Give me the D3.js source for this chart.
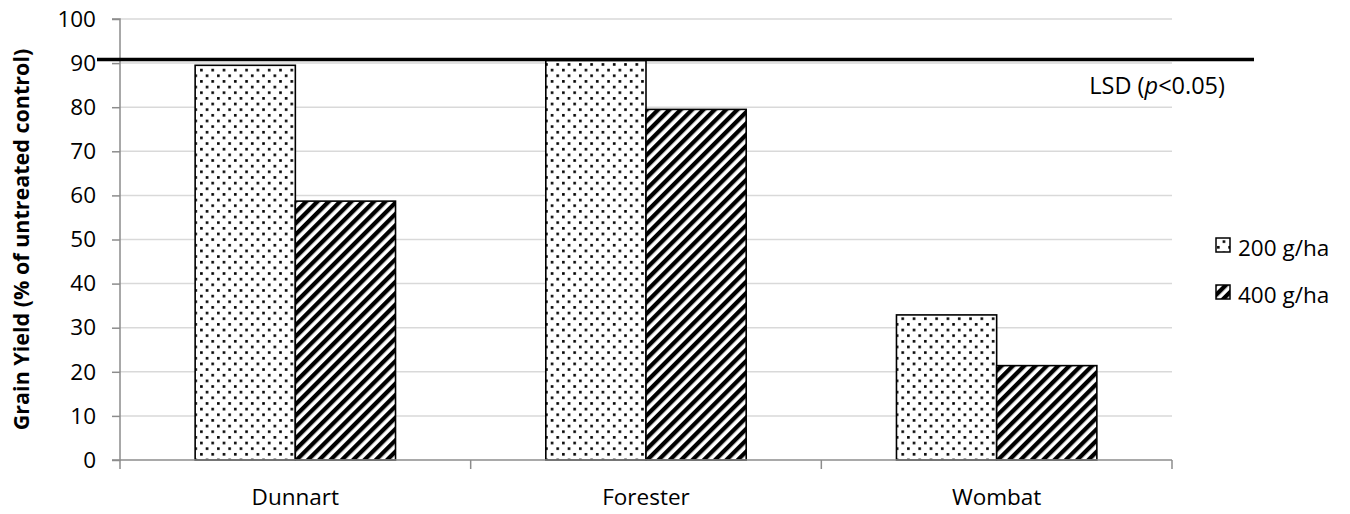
<!DOCTYPE html>
<html><head><meta charset="utf-8">
<script src="https://cdn.jsdelivr.net/npm/d3@7"></script>
<style>body{margin:0;background:#fff;} svg{display:block;font-family:'Open Sans',Lato,sans-serif;}</style>
</head><body><svg id="c" width="1350" height="514"></svg>
<script>
// ---- data ----
const categories = ["Dunnart", "Forester", "Wombat"];
const seriesNames = ["200 g/ha", "400 g/ha"];
const dose200 = [89.5, 90.6, 32.9];
const dose400 = [58.7, 79.5, 21.4];
const yTicks = [0, 10, 20, 30, 40, 50, 60, 70, 80, 90, 100];
const lsdValue = 90.8;
const yTitle = "Grain Yield (% of untreated control)";

// ---- layout ----
const plotL = 120, plotR = 1172, plotT = 19, plotB = 460;
const svg = d3.select("#c");
const defs = svg.append("defs");

// dot pattern (5%)
const pd = defs.append("pattern").attr("id", "dots").attr("patternUnits", "userSpaceOnUse")
  .attr("width", 11.3).attr("height", 11.3);
pd.append("rect").attr("width", 11.3).attr("height", 11.3).attr("fill", "#fff");
pd.append("rect").attr("x", 1).attr("y", 1).attr("width", 2.6).attr("height", 2.6).attr("fill", "#000");
pd.append("rect").attr("x", 6.65).attr("y", 6.65).attr("width", 2.6).attr("height", 2.6).attr("fill", "#000");
// wide upward diagonal
const ph = defs.append("pattern").attr("id", "hatch").attr("patternUnits", "userSpaceOnUse")
  .attr("width", 8).attr("height", 8).attr("patternTransform", "rotate(45)");
ph.append("rect").attr("width", 8).attr("height", 8).attr("fill", "#fff");
ph.append("rect").attr("width", 4.3).attr("height", 8).attr("fill", "#000");
const fills = ["url(#dots)", "url(#hatch)"];

const y = d3.scaleLinear().domain([0, 100]).range([plotB, plotT]);
const x0 = d3.scaleBand().domain(categories).range([plotL, plotR]).padding(0);
const x1 = d3.scaleBand().domain(seriesNames).range([0, x0.bandwidth()]).paddingInner(0).paddingOuter(0.75);

// gridlines
svg.append("g").selectAll("line").data(yTicks.filter(d => d > 0)).join("line")
  .attr("x1", plotL).attr("x2", plotR)
  .attr("y1", d => y(d)).attr("y2", d => y(d))
  .attr("stroke", "#d9d9d9").attr("stroke-width", 1.5);

// bars
const rows = categories.map((c, i) => ({ c, vals: [dose200[i], dose400[i]] }));
const g = svg.append("g").selectAll("g").data(rows).join("g")
  .attr("transform", d => `translate(${x0(d.c)},0)`);
g.selectAll("rect").data(d => d.vals.map((v, j) => ({ s: seriesNames[j], v, j }))).join("rect")
  .attr("x", d => x1(d.s)).attr("width", x1.bandwidth())
  .attr("y", d => y(d.v)).attr("height", d => y(0) - y(d.v))
  .attr("fill", d => fills[d.j]).attr("stroke", "#000").attr("stroke-width", 1.6);

// y axis
const ya = svg.append("g").attr("transform", `translate(${plotL},0)`)
  .call(d3.axisLeft(y).tickValues(yTicks).tickSize(8).tickPadding(16));
ya.select(".domain").attr("stroke", "#8c8c8c").attr("stroke-width", 1.5).attr("d", `M-8,${plotB}H0V${plotT}H-8`);
ya.selectAll(".tick line").attr("stroke", "#8c8c8c").attr("stroke-width", 1.5);
ya.selectAll(".tick text").attr("font-size", 22.5).attr("font-family", "'Open Sans'").attr("fill", "#000");

// x axis
const xa = svg.append("g").attr("transform", `translate(0,${plotB})`);
xa.append("line").attr("x1", plotL).attr("x2", plotR).attr("stroke", "#8c8c8c").attr("stroke-width", 1.5);
const bounds = categories.map(c => x0(c)).concat([x0(categories[categories.length - 1]) + x0.bandwidth()]);
xa.selectAll(".tk").data(bounds).join("line").attr("class", "tk")
  .attr("x1", d => d).attr("x2", d => d).attr("y1", 0).attr("y2", 9)
  .attr("stroke", "#8c8c8c").attr("stroke-width", 1.5);
xa.selectAll(".lbl").data(categories).join("text").attr("class", "lbl")
  .attr("x", d => x0(d) + x0.bandwidth() / 2).attr("y", 45)
  .attr("text-anchor", "middle")
  .attr("font-size", 22.5).text(d => d);

// LSD line
svg.append("line").attr("x1", 97).attr("x2", 1254).attr("y1", y(lsdValue)).attr("y2", y(lsdValue))
  .attr("stroke", "#000").attr("stroke-width", 3.6);
const lsdT = svg.append("text").attr("x", 1225).attr("y", 85).attr("text-anchor", "end")
  .attr("dominant-baseline", "central").attr("font-size", 23.5);
lsdT.append("tspan").text("LSD (");
lsdT.append("tspan").attr("font-style", "italic").text("p");
lsdT.append("tspan").text("<0.05)");

// y title
svg.append("text").attr("transform", `translate(29,${(plotT + plotB) / 2}) rotate(-90)`)
  .attr("text-anchor", "middle")
  .attr("font-size", 21.5).attr("font-weight", "bold").text(yTitle);

// legend
const leg = svg.append("g").selectAll("g").data(seriesNames).join("g")
  .attr("transform", (d, i) => `translate(1216,${245 + i * 47})`);
leg.append("rect").attr("x", 0).attr("y", -7).attr("width", 14).attr("height", 14)
  .attr("fill", (d, i) => fills[i]).attr("stroke", "#000").attr("stroke-width", 1.5);
leg.append("text").attr("x", 22).attr("y", 2).attr("dominant-baseline", "central")
  .attr("font-size", 22.5).text(d => d);
</script></body></html>
